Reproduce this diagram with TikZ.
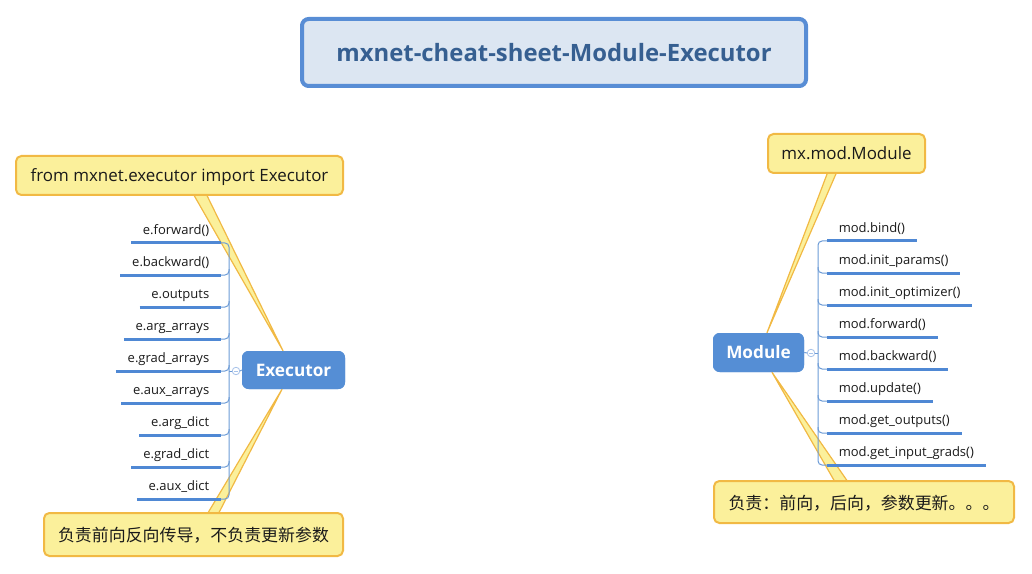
\documentclass[tikz,border=0pt]{standalone}
\usepackage{fontspec}
\setmainfont{Open Sans}
\newfontfamily\cjk{Noto Sans CJK SC}
\usetikzlibrary{calc}
\definecolor{topicblue}{HTML}{558ED5}
\definecolor{barblue}{HTML}{4F88D4}
\definecolor{trunkblue}{HTML}{6C9BD6}
\definecolor{titlefill}{HTML}{DCE6F2}
\definecolor{titleborder}{HTML}{588DD5}
\definecolor{titletext}{HTML}{365F91}
\definecolor{notefill}{HTML}{FBF09B}
\definecolor{noteborder}{HTML}{F1B944}
\definecolor{collapse}{HTML}{A8C3EA}
\definecolor{ink}{HTML}{1A1A1A}
\begin{document}
\begin{tikzpicture}[x=0.75pt,y=-0.75pt,
 titlebox/.style={draw=titleborder, line width=3pt, fill=titlefill, rounded corners=5pt, minimum width=504*0.75pt, minimum height=67*0.75pt, inner sep=0pt, text=titletext, font=\fontsize{17.9}{21}\selectfont\bfseries},
 topic/.style={fill=topicblue, rounded corners=5pt, inner sep=0pt, text=white, font=\fontsize{12.9}{15}\selectfont\bfseries},
 note/.style={draw=noteborder, line width=1.5pt, fill=notefill, rounded corners=4pt, inner sep=0pt, text depth=0pt, text=ink, font=\fontsize{12.7}{15}\selectfont},
 tail/.style={draw=noteborder, line width=0.9pt, fill=notefill, line join=round},
 item/.style={inner xsep=11.5*0.75pt, inner ysep=6pt, text depth=0pt, text=ink, font=\fontsize{9.75}{12}\selectfont},
 bar/.style={draw=barblue, line width=2.25pt},
 trunk/.style={draw=trunkblue, line width=0.75pt, rounded corners=3pt},
 fold/.style={circle, draw=collapse, fill=white, line width=0.6pt, minimum size=7.5*0.75pt, inner sep=0pt,
   path picture={\draw[collapse, line width=0.6pt] ($(path picture bounding box.center)+(-2,0)$) -- ($(path picture bounding box.center)+(2,0)$);}}
]
\useasboundingbox (0,0) rectangle (1032,574);

% title
\node[titlebox] (title) at (554,52.5) {mxnet-cheat-sheet-Module-Executor};

% topics
\node[topic, minimum width=103*0.75pt, minimum height=38*0.75pt] (exec) at (293.5,370) {Executor};
\node[topic, minimum width=91*0.75pt, minimum height=39*0.75pt] (mod) at (758.5,352.5) {Module};

% notes (positions)
\path (179.5,175.5) coordinate (n1c) (193.5,534.5) coordinate (n2c) (846.5,153.5) coordinate (n3c) (864,502) coordinate (n4c);

% tails
\path[tail] ($(n1c)+(13.5,18)$) -- ($(exec.north)+(-10.5,0)$) -- ($(n1c)+(26.5,18)$) -- cycle;
\path[tail] ($(n2c)+(13.5,-20)$) -- ($(exec.south)+(-11.5,0)$) -- ($(n2c)+(24.5,-20)$) -- cycle;
\path[tail] ($(n3c)+(-18.5,18)$) -- ($(mod.north)+(8.5,0)$) -- ($(n3c)+(-9.5,18)$) -- cycle;
\path[tail] ($(n4c)+(-29,-20)$) -- ($(mod.south)+(13.5,0)$) -- ($(n4c)+(-16,-20)$) -- cycle;

% redraw topics over tails
\node[topic, minimum width=103*0.75pt, minimum height=38*0.75pt] at (exec) {Executor};
\node[topic, minimum width=91*0.75pt, minimum height=39*0.75pt] at (mod) {Module};

\node[note, minimum width=327*0.75pt, minimum height=39*0.75pt] (n1) at (n1c) {from mxnet.executor import Executor};
\node[note, minimum width=299*0.75pt, minimum height=43*0.75pt] (n2) at (n2c) {\cjk 负责前向反向传导，不负责更新参数};
\node[note, minimum width=157*0.75pt, minimum height=39*0.75pt] (n3) at (n3c) {mx.mod.Module};
\node[note, minimum width=300*0.75pt, minimum height=42*0.75pt] (n4) at (n4c) {\cjk 负责：前向，后向，参数更新。。。};

% left items
\foreach \n/\y/\t in {e1/243/e.forward(), e2/275/e.backward(), e3/307/e.outputs, e4/339/e.arg\_arrays, e5/371/e.grad\_arrays, e6/403/e.aux\_arrays, e7/435/e.arg\_dict, e8/467/e.grad\_dict, e9/499/e.aux\_dict}{
  \node[item, anchor=south east] (\n) at (221,\y) {\t};
}
\coordinate (ltrunk) at (229,371);
\draw[trunk] (e1.south east) -| (ltrunk) |- (e9.south east);
\foreach \n in {e2,e3,e4,e5,e6,e7,e8}{
  \draw[trunk] ($(\n.south east -| ltrunk)+(0,-6)$) |- (\n.south east);
}
\foreach \n in {e1,e2,e3,e4,e5,e6,e7,e8,e9}{
  \draw[bar] (\n.south west) -- (\n.south east);
}
\node[fold] (efold) at (236,371) {};
\draw[trunk] (ltrunk) -- (efold.west);
\draw[trunk] (efold.east) -- (exec.west);

% right items
\foreach \n/\y/\t in {m1/241/mod.bind(), m2/273/mod.init\_params(), m3/305/mod.init\_optimizer(), m4/337/mod.forward(), m5/369/mod.backward(), m6/401/mod.update(), m7/433/mod.get\_outputs(), m8/465/mod.get\_input\_grads()}{
  \node[item, anchor=south west] (\n) at (827,\y) {\t};
}
\coordinate (rtrunk) at (818,353);
\draw[trunk] (m1.south west) -| (rtrunk) |- (m8.south west);
\foreach \n in {m2,m3,m4,m5,m6,m7}{
  \draw[trunk] ($(\n.south west -| rtrunk)+(0,-6)$) |- (\n.south west);
}
\foreach \n in {m1,m2,m3,m4,m5,m6,m7,m8}{
  \draw[bar] (\n.south west) -- (\n.south east);
}
\node[fold] (mfold) at (811,353) {};
\draw[trunk] (rtrunk) -- (mfold.east);
\draw[trunk] (mfold.west) -- (mod.east);
\end{tikzpicture}
\end{document}
